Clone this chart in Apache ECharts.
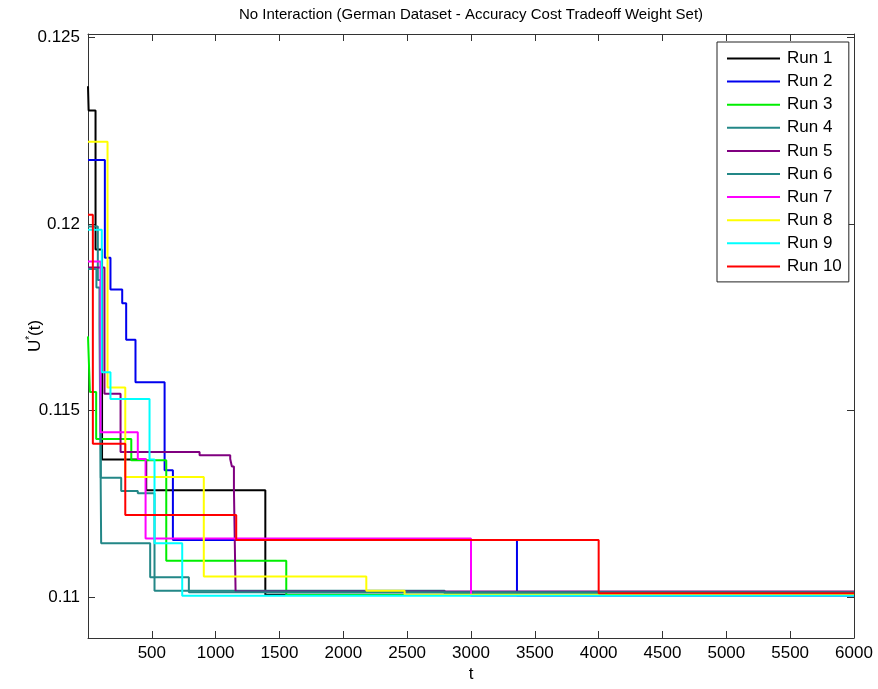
<!DOCTYPE html>
<html><head><meta charset="utf-8">
<script src="https://cdn.jsdelivr.net/npm/echarts@6/dist/echarts.min.js"></script>
<style>html,body{margin:0;padding:0;background:#fff}#chart{width:878px;height:689px}</style>
</head><body><div id="chart"></div>
<script>
const titleText = "No Interaction (German Dataset - Accuracy Cost Tradeoff Weight Set)";
const runNames = ["Run 1","Run 2","Run 3","Run 4","Run 5","Run 6","Run 7","Run 8","Run 9","Run 10"];
const xTicks = [500,1000,1500,2000,2500,3000,3500,4000,4500,5000,5500,6000];
const yTicks = [0.11,0.115,0.12,0.125];

// Each run: times where the best value changes, and the value held from that time on
const run1T = [0, 5, 59, 110, 456, 1389, 6000];
const run1U = [0.1237, 0.12305, 0.11932, 0.11369, 0.11286, 0.11006, 0.11006];
const run2T = [0, 132, 176, 268, 299, 372, 600, 665, 3360, 6000];
const run2U = [0.12172, 0.1191, 0.11825, 0.11788, 0.1169, 0.11576, 0.1134, 0.11153, 0.11003, 0.11003];
const run3T = [0, 15, 64, 339, 613, 1553, 6000];
const run3U = [0.11699, 0.1155, 0.11424, 0.11367, 0.11097, 0.11005, 0.11005];
const run4T = [0, 77, 100, 260, 390, 521, 2794, 6000];
const run4U = [0.11994, 0.1185, 0.1132, 0.11284, 0.11278, 0.11017, 0.11008, 0.11008];
const run5T = [0, 129, 255, 874, 1114, 1127, 1143, 1156, 6000];
const run5U = [0.11884, 0.11545, 0.11389, 0.1138, 0.1137, 0.1135, 0.1129, 0.11015, 0.11015];
const run6T = [0, 66, 90, 103, 487, 790, 6000];
const run6U = [0.1188, 0.1183, 0.11726, 0.11144, 0.11053, 0.11013, 0.11013];
const run7T = [0, 98, 390, 451, 3000, 6000];
const run7U = [0.119, 0.11442, 0.1137, 0.11157, 0.11003, 0.11003];
const run8T = [0, 153, 292, 907, 2180, 2480, 6000];
const run8U = [0.12221, 0.11562, 0.11322, 0.11055, 0.11017, 0.11006, 0.11006];
const run9T = [0, 108, 176, 482, 521, 738, 6000];
const run9U = [0.11985, 0.11603, 0.11531, 0.11369, 0.11144, 0.11003, 0.11003];
const run10T = [0, 38, 292, 1161, 4000, 6000];
const run10U = [0.12025, 0.11411, 0.1122, 0.11153, 0.1101, 0.1101];

const runTimes = [run1T, run2T, run3T, run4T, run5T, run6T, run7T, run8T, run9T, run10T];
const runValues = [run1U, run2U, run3U, run4U, run5U, run6U, run7U, run8U, run9U, run10U];
const runColors = ['#000000','#0000ee','#00ee00','#238787','#800080','#238787','#ff00ff','#ffff00','#00ffff','#ff0000'];

const FONT = 'Liberation Sans';
const chart = echarts.init(document.getElementById('chart'));
const series = runNames.map((name, i) => ({
  name: name,
  type: 'line',
  step: 'end',
  showSymbol: false,
  symbol: 'none',
  animation: false,
  color: runColors[i],
  lineStyle: { width: 2, color: runColors[i] },
  data: runTimes[i].map((t, j) => [t, runValues[i][j]])
}));

const axisLineStyle = { color: '#333', width: 1 };
chart.setOption({
  animation: false,
  backgroundColor: '#fff',
  title: {
    text: titleText, left: 239, top: 7, padding: 0,
    textStyle: { fontFamily: FONT, fontSize: 15, fontWeight: 'normal', color: '#000' }
  },
  grid: { left: 88, right: 24, top: 34, bottom: 51 },
  legend: {
    data: runNames,
    orient: 'vertical', left: 717, top: 42,
    icon: 'rect', itemWidth: 53, itemHeight: 2, itemGap: 6.1,
    padding: [8, 7, 7, 10],
    borderColor: '#222', borderWidth: 1, backgroundColor: '#fff',
    textStyle: { fontFamily: FONT, fontSize: 17, lineHeight: 17, color: '#000', padding: [0,0,0,2] }
  },
  xAxis: [{
    type: 'value', min: 0, max: 6000,
    name: 't', nameLocation: 'middle', nameGap: 28, nameMoveOverlap: false,
    nameTextStyle: { fontFamily: FONT, fontSize: 17, color: '#000' },
    axisLine: { show: true, onZero: false, lineStyle: axisLineStyle },
    axisTick: { show: true, inside: true, length: 7, customValues: xTicks, lineStyle: axisLineStyle },
    axisLabel: { customValues: xTicks, formatter: v => String(v), fontFamily: FONT, fontSize: 17, color: '#000', margin: 7 },
    splitLine: { show: false }
  }, {
    type: 'value', min: 0, max: 6000, position: 'top',
    axisLine: { show: true, onZero: false, lineStyle: axisLineStyle },
    axisTick: { show: true, inside: true, length: 7, customValues: xTicks, lineStyle: axisLineStyle },
    axisLabel: { show: false, customValues: xTicks },
    splitLine: { show: false }
  }],
  yAxis: [{
    type: 'value', min: 0.1089, max: 0.1251,
    name: '{u|U}{s|*}{u|(t)}', nameLocation: 'middle', nameGap: 43, nameMoveOverlap: false,
    nameTextStyle: {
      fontFamily: FONT, color: '#000',
      rich: {
        u: { fontFamily: FONT, fontSize: 17, color: '#000', lineHeight: 20 },
        s: { fontFamily: FONT, fontSize: 10, color: '#000', verticalAlign: 'top', lineHeight: 20 }
      }
    },
    axisLine: { show: true, onZero: false, lineStyle: axisLineStyle },
    axisTick: { show: true, inside: true, length: 7, customValues: yTicks, lineStyle: axisLineStyle },
    axisLabel: { customValues: yTicks, fontFamily: FONT, fontSize: 17, color: '#000', margin: 8 },
    splitLine: { show: false }
  }, {
    type: 'value', min: 0.1089, max: 0.1251, position: 'right',
    axisLine: { show: true, onZero: false, lineStyle: axisLineStyle },
    axisTick: { show: true, inside: true, length: 7, customValues: yTicks, lineStyle: axisLineStyle },
    axisLabel: { show: false, customValues: yTicks },
    splitLine: { show: false }
  }],
  series: series
});
</script>
</body></html>
